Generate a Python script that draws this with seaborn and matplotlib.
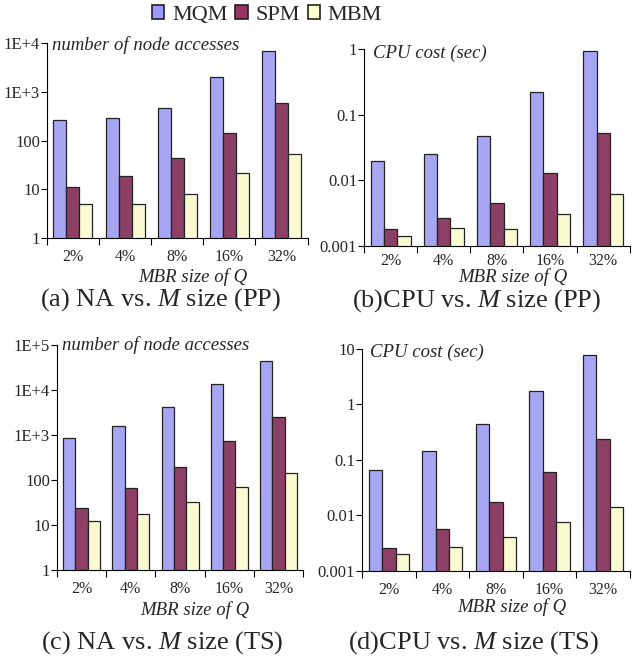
import numpy as np
import pandas as pd
import seaborn as sns
import matplotlib.pyplot as plt
from matplotlib.patches import Patch

sns.set_style('ticks')
plt.rcParams['font.family'] = ['Liberation Serif', 'DejaVu Serif']
plt.rcParams['mathtext.fontset'] = 'custom'
plt.rcParams['mathtext.rm'] = 'Liberation Serif'
plt.rcParams['mathtext.it'] = 'Liberation Serif:italic'

# 数据
sizes = ['2%', '4%', '8%', '16%', '32%']
methods = ['MQM', 'SPM', 'MBM']
colors = ['#9999FF', '#993366', '#FFFFCC']

na_pp = {'MQM': [270, 295, 470, 2000, 7000],
         'SPM': [11, 19, 45, 145, 600],
         'MBM': [5, 5, 8, 22, 54]}
cpu_pp = {'MQM': [0.020, 0.025, 0.047, 0.224, 0.93],
          'SPM': [0.0018, 0.0027, 0.0046, 0.013, 0.052],
          'MBM': [0.0014, 0.0019, 0.0018, 0.0031, 0.0061]}
na_ts = {'MQM': [870, 1600, 4250, 13400, 45000],
         'SPM': [24, 65, 198, 720, 2460],
         'MBM': [12, 18, 33, 70, 145]}
cpu_ts = {'MQM': [0.065, 0.144, 0.45, 1.72, 7.7],
          'SPM': [0.0026, 0.0057, 0.0172, 0.060, 0.24],
          'MBM': [0.0020, 0.0027, 0.0041, 0.0075, 0.0142]}

na_pp_ticks = [1, 10, 100, 1000, 10000]
na_pp_labels = ['1', '10', '100', '1E+3', '1E+4']
cpu_pp_ticks = [0.001, 0.01, 0.1, 1]
cpu_pp_labels = ['0.001', '0.01', '0.1', '1']
na_ts_ticks = [1, 10, 100, 1000, 10000, 100000]
na_ts_labels = ['1', '10', '100', '1E+3', '1E+4', '1E+5']
cpu_ts_ticks = [0.001, 0.01, 0.1, 1, 10]
cpu_ts_labels = ['0.001', '0.01', '0.1', '1', '10']


def to_long(d):
    rows = []
    for m in methods:
        for s, v in zip(sizes, d[m]):
            rows.append({'size': s, 'method': m, 'value': v})
    return pd.DataFrame(rows)


fig = plt.figure(figsize=(6.33, 6.56), dpi=100)

panels = [
    # 数据, 轴位置, 刻度, 标签, 角注, 角注位置, x标签位置, 刻度间距, 题注, 题注位置
    (na_pp, [0.074, 0.637, 0.412, 0.297], na_pp_ticks, na_pp_labels,
     'number of node accesses', (0.02, 0.99), -0.20, 8,
     '(a) NA vs. $M$ size (PP)', (0.253, 0.544)),
    (cpu_pp, [0.575, 0.625, 0.420, 0.300], cpu_pp_ticks, cpu_pp_labels,
     'CPU cost (sec)', (0.035, 0.98), -0.158, 5,
     '(b)CPU vs. $M$ size (PP)', (0.753, 0.542)),
    (na_ts, [0.090, 0.131, 0.389, 0.343], na_ts_ticks, na_ts_labels,
     'number of node accesses', (0.02, 1.0), -0.178, 8,
     '(c) NA vs. $M$ size (TS)', (0.256, 0.020)),
    (cpu_ts, [0.572, 0.130, 0.423, 0.338], cpu_ts_ticks, cpu_ts_labels,
     'CPU cost (sec)', (0.03, 0.985), -0.165, 8,
     '(d)CPU vs. $M$ size (TS)', (0.747, 0.020)),
]

for data, pos, ticks, labels, note, note_xy, xl_y, xpad, caption, cap_xy in panels:
    ax = fig.add_axes(pos)
    ax.set_yscale('log')
    sns.barplot(data=to_long(data), x='size', y='value', hue='method',
                palette=colors, edgecolor='#222222', linewidth=0.9,
                width=0.75, legend=False, ax=ax)
    ax.set_ylim(ticks[0], ticks[-1])
    ax.set_xlim(-0.5, 4.5)
    ax.set_yticks(ticks)
    ax.set_yticklabels(labels, fontsize=12)
    ax.yaxis.set_minor_locator(plt.NullLocator())
    ax.tick_params(axis='y', length=4, width=0.8, pad=1, color='black')
    # x 轴：分隔刻度在组之间，标签在组中间
    ax.set_xticks(np.arange(-0.5, 5, 1))
    ax.set_xticklabels([])
    ax.set_xticks(np.arange(5), minor=True)
    ax.set_xticklabels(sizes, minor=True, fontsize=11.5)
    ax.tick_params(axis='x', which='major', length=5, width=0.8, color='black')
    ax.tick_params(axis='x', which='minor', length=0, pad=xpad)
    ax.set_xlabel('MBR size of Q', fontsize=13.5, style='italic')
    ax.xaxis.label.set_va('center')
    ax.xaxis.set_label_coords(0.56, xl_y)
    ax.set_ylabel('')
    sns.despine(ax=ax)
    for sp in ['left', 'bottom']:
        ax.spines[sp].set_color('black')
        ax.spines[sp].set_linewidth(0.8)
    ax.text(note_xy[0], note_xy[1], note, transform=ax.transAxes,
            fontsize=13.5, style='italic', va='center', ha='left')
    fig.text(cap_xy[0], cap_xy[1], caption, fontsize=19, ha='center', va='center')

handles = [Patch(facecolor=c, edgecolor='#222222', linewidth=1.2) for c in colors]
fig.legend(handles, methods, loc='center', bbox_to_anchor=(0.422, 0.977),
           ncol=3, frameon=False, fontsize=16, handlelength=0.55, handleheight=0.55,
           handletextpad=0.35, columnspacing=0.35, borderpad=0)

fig.savefig('out.png', dpi=100)
